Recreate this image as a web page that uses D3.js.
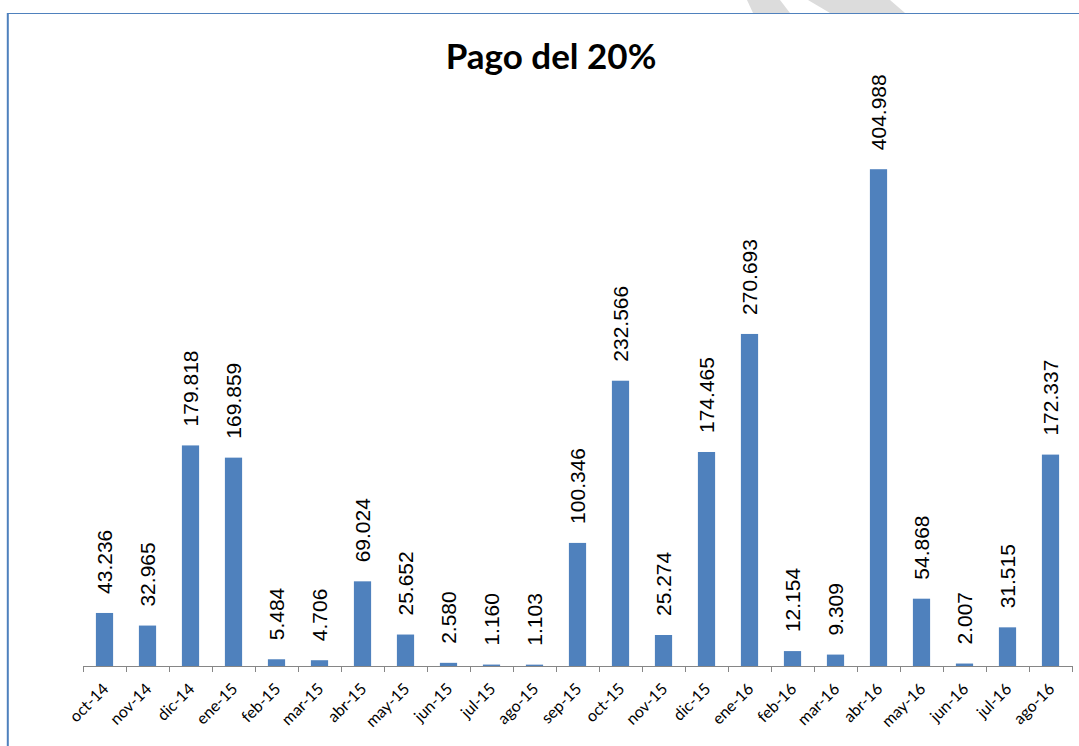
<!DOCTYPE html>
<html>
<head>
<meta charset="utf-8">
<title>Pago del 20%</title>
<script src="https://cdn.jsdelivr.net/npm/d3@7"></script>
<style>
	body { margin: 0; background: #fff; }
	#chart-area { width: 1079px; height: 746px; }
	.axis path, .axis line { stroke: #868686; }
	.axis text { font-family: Lato, "Open Sans", sans-serif; font-size: 16px; fill: #000; }
	.bar-label { font-family: "Liberation Sans", Arial, sans-serif; font-size: 21px; fill: #000; }
	.chart-title { font-family: Lato, "Open Sans", sans-serif; font-weight: bold; font-size: 35px; }
</style>
</head>
<body>
<div id="chart-area"></div>

<script>

// Months (category axis)
var months = ["oct-14", "nov-14", "dic-14", "ene-15", "feb-15", "mar-15", "abr-15", "may-15",
	"jun-15", "jul-15", "ago-15", "sep-15", "oct-15", "nov-15", "dic-15", "ene-16",
	"feb-16", "mar-16", "abr-16", "may-16", "jun-16", "jul-16", "ago-16"];

// Payments (thousands)
var payments = [43.236, 32.965, 179.818, 169.859, 5.484, 4.706, 69.024, 25.652,
	2.580, 1.160, 1.103, 100.346, 232.566, 25.274, 174.465, 270.693,
	12.154, 9.309, 404.988, 54.868, 2.007, 31.515, 172.337];

var yDomain = [0, 450];
var chartTitle = "Pago del 20%";

// label format: 43.236 -> "43.236" (point as thousands separator)
var labelFormat = d3.format(".3f");


/*
 * BarVis - Object constructor function
 */
BarVis = function(_parentElement, _months, _values) {
	this.parentElement = _parentElement;
	this.months = _months;
	this.values = _values;

	this.initVis();
}

BarVis.prototype.initVis = function() {
	var vis = this;

	vis.outerWidth = 1079;
	vis.outerHeight = 746;
	vis.margin = { top: 114, right: 7, bottom: 80, left: 83 };

	vis.width = vis.outerWidth - vis.margin.left - vis.margin.right;
	vis.height = vis.outerHeight - vis.margin.top - vis.margin.bottom;

	vis.root = d3.select("#" + vis.parentElement).append("svg")
		.attr("width", vis.outerWidth)
		.attr("height", vis.outerHeight);

	// page decoration (watermark bits above the frame)
	vis.root.append("polygon")
		.attr("points", "747,0 780,0 790,13 753,13")
		.attr("fill", "#dcdcdc");
	vis.root.append("polygon")
		.attr("points", "808,0 890,0 905,13 830,13")
		.attr("fill", "#dcdcdc");

	// frame lines
	vis.root.append("line")
		.attr("x1", 7).attr("x2", vis.outerWidth)
		.attr("y1", 13.5).attr("y2", 13.5)
		.attr("stroke", "#4f81bd").attr("stroke-width", 1.2);
	vis.root.append("line")
		.attr("x1", 7.8).attr("x2", 7.8)
		.attr("y1", 13).attr("y2", vis.outerHeight)
		.attr("stroke", "#4f81bd").attr("stroke-width", 2);

	// title
	vis.root.append("text")
		.attr("class", "chart-title")
		.attr("x", 551)
		.attr("y", 69)
		.attr("text-anchor", "middle")
		.text(chartTitle);

	vis.svg = vis.root.append("g")
		.attr("transform", "translate(" + vis.margin.left + "," + vis.margin.top + ")");

	// Scales and axes
	vis.x = d3.scaleBand()
		.domain(vis.months)
		.range([0, vis.width])
		.paddingInner(0.6)
		.paddingOuter(0.3);

	vis.y = d3.scaleLinear()
		.domain(yDomain)
		.range([vis.height, 0]);

	vis.xAxis = d3.axisBottom()
		.scale(vis.x)
		.tickSize(0)
		.tickFormat(function(d) { return d; });

	vis.xAxisGroup = vis.svg.append("g")
		.attr("class", "x-axis axis")
		.attr("transform", "translate(0," + vis.height + ")");

	vis.wrangleData();
}

BarVis.prototype.wrangleData = function() {
	var vis = this;

	vis.displayData = vis.months.map(function(m, i) {
		return { month: m, value: vis.values[i] };
	});

	vis.updateVis();
}

BarVis.prototype.updateVis = function() {
	var vis = this;

	// Bars
	vis.svg.selectAll(".bar")
		.data(vis.displayData)
		.enter().append("rect")
		.attr("class", "bar")
		.attr("x", function(d) { return vis.x(d.month); })
		.attr("width", vis.x.bandwidth())
		.attr("y", function(d) { return vis.y(d.value); })
		.attr("height", function(d) { return vis.height - vis.y(d.value); })
		.attr("fill", "#4f81bd");

	// Value labels (vertical)
	vis.svg.selectAll(".bar-label")
		.data(vis.displayData)
		.enter().append("text")
		.attr("class", "bar-label")
		.attr("transform", function(d) {
			var cx = vis.x(d.month) + vis.x.bandwidth() / 2;
			return "translate(" + cx + "," + (vis.y(d.value) - 19) + ") rotate(-90)";
		})
		.attr("dy", "0.36em")
		.text(function(d) { return labelFormat(d.value); });

	// Axis
	vis.xAxisGroup.call(vis.xAxis);
	vis.xAxisGroup.select(".domain").attr("d", "M0,0.5H" + vis.width);

	// tick marks on category boundaries
	var step = vis.x.step();
	var bounds = d3.range(vis.months.length + 1);
	vis.xAxisGroup.selectAll(".bound")
		.data(bounds)
		.enter().append("line")
		.attr("class", "bound")
		.attr("x1", function(i) { return Math.round(i * step) + 0.5; })
		.attr("x2", function(i) { return Math.round(i * step) + 0.5; })
		.attr("y1", 0)
		.attr("y2", 6)
		.attr("stroke", "#868686");

	vis.xAxisGroup.selectAll(".tick text")
		.attr("text-anchor", "end")
		.attr("dy", null)
		.attr("y", 0)
		.attr("transform", "translate(5,24) rotate(-45)");
}

var barVis = new BarVis("chart-area", months, payments);

</script>
</body>
</html>
